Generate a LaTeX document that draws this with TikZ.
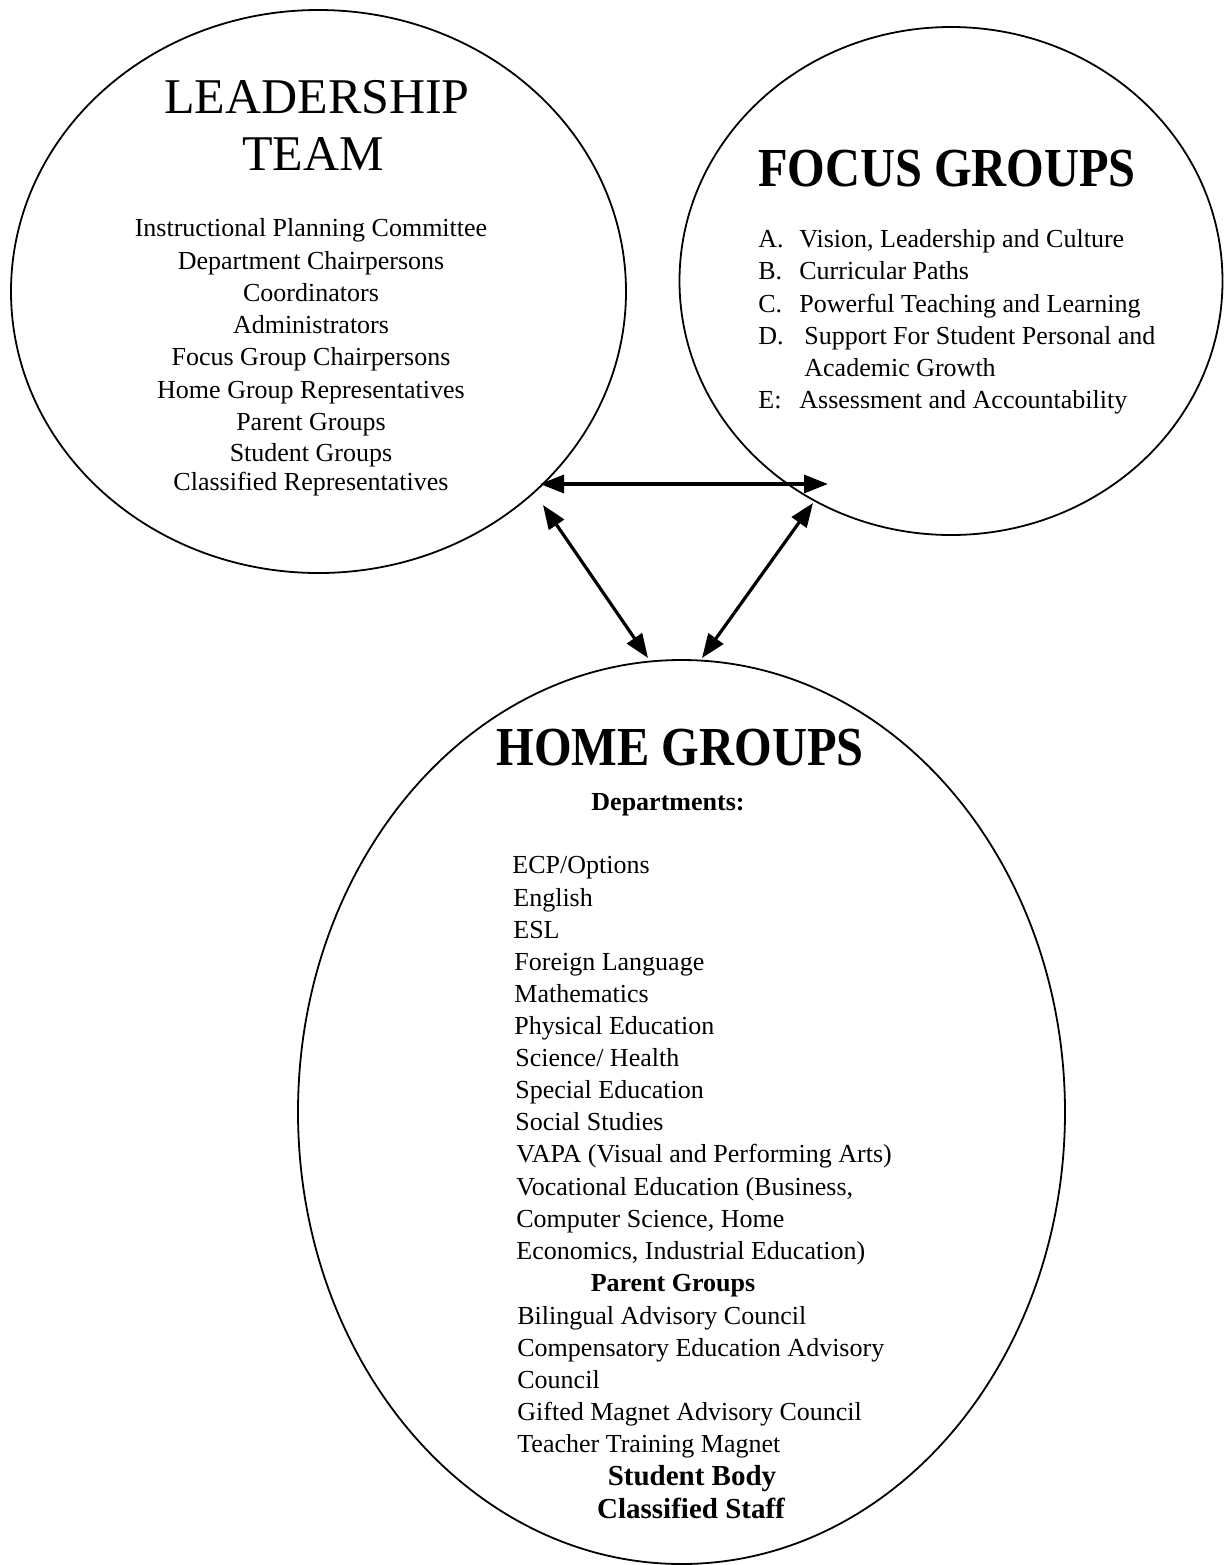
\documentclass[tikz,border=0pt]{standalone}
\usepackage{fontspec}
\setmainfont{Liberation Serif}
\newfontfamily\titlefont[FakeStretch=0.88]{Liberation Serif}
\usetikzlibrary{shapes.geometric,arrows.meta}
\tikzset{
  circ/.style={draw, ellipse, line width=0.9pt, inner sep=0pt},
  body/.style={font=\fontsize{13}{16}\selectfont, inner sep=0pt},
  bodyb/.style={font=\fontsize{13}{16}\selectfont\bfseries, inner sep=0pt, anchor=base},
  bodybb/.style={font=\fontsize{14.5}{16}\selectfont\bfseries, inner sep=0pt, anchor=base},
  ctr/.style={body, anchor=base},
  lft/.style={body, anchor=base west},
  engr/.style={font=\fontsize{25}{28}\selectfont, inner sep=0pt, anchor=base},
  bigb/.style={font=\titlefont\fontsize{27.5}{30}\selectfont\bfseries, inner sep=0pt, anchor=base},
  link/.style={line width=1.6pt, {Triangle[length=12pt,width=9pt]}-{Triangle[length=12pt,width=9pt]}}
}
\begin{document}
\begin{tikzpicture}[x=0.5pt,y=-0.5pt]
\useasboundingbox (0,0) rectangle (1228,1565);
% circles
\node[circ, minimum width=307.5pt, minimum height=281.5pt] (lead) at (318.5,291.5) {};
\node[circ, minimum width=271.5pt, minimum height=254pt] (focus) at (951,281) {};
\node[circ, minimum width=383.5pt, minimum height=452pt] (home) at (681.5,1112) {};
% Leadership team
\node[engr] (ltA) at (317,113) {LEADERSHIP};
\node[engr] (ltB) at (313,170) {TEAM};
\node[ctr] (l1) at (311,236) {Instructional Planning Committee};
\node[ctr] (l2) at (311,269) {Department Chairpersons};
\node[ctr] (l3) at (311,301) {Coordinators};
\node[ctr] (l4) at (311,333) {Administrators};
\node[ctr] (l5) at (311,365) {Focus Group Chairpersons};
\node[ctr] (l6) at (311,398) {Home Group Representatives};
\node[ctr] (l7) at (311,430) {Parent Groups};
\node[ctr] (l8) at (311,461) {Student Groups};
\node[ctr] (l9) at (311,490) {Classified Representatives};
% Focus groups
\node[bigb] (fgT) at (947,186) {FOCUS GROUPS};
\node[lft] (f1) at (758,247) {\makebox[20.5pt][l]{A.}Vision, Leadership and Culture};
\node[lft] (f2) at (758,279) {\makebox[20.5pt][l]{B.}Curricular Paths};
\node[lft] (f3) at (758,312) {\makebox[20.5pt][l]{C.}Powerful Teaching and Learning};
\node[lft] (f4) at (758,344) {\makebox[23pt][l]{D.}Support For Student Personal and};
\node[lft] (f5) at (804,376) {Academic Growth};
\node[lft] (f6) at (758,408) {\makebox[20.5pt][l]{E:}Assessment and Accountability};
% Home groups
\node[bigb] (hgT) at (680,765) {HOME GROUPS};
\node[bodyb] (dep) at (668,810) {Departments:};
\node[lft] (h1) at (512,873) {ECP/Options};
\node[lft] (h2) at (513,906) {English};
\node[lft] (h3) at (513,938) {ESL};
\node[lft] (h4) at (514,970) {Foreign Language};
\node[lft] (h5) at (514,1002) {Mathematics};
\node[lft] (h6) at (514,1034) {Physical Education};
\node[lft] (h7) at (515,1066) {Science/ Health};
\node[lft] (h8) at (515,1098) {Special Education};
\node[lft] (h9) at (515,1130) {Social Studies};
\node[lft] (h10) at (516,1162) {VAPA (Visual and Performing Arts)};
\node[lft] (h11) at (516,1195) {Vocational Education (Business,};
\node[lft] (h12) at (516,1227) {Computer Science, Home};
\node[lft] (h13) at (516,1259) {Economics, Industrial Education)};
\node[bodyb] (pg) at (673,1291) {Parent Groups};
\node[lft] (h14) at (517,1324) {Bilingual Advisory Council};
\node[lft] (h15) at (517,1356) {Compensatory Education Advisory};
\node[lft] (h16) at (517,1388) {Council};
\node[lft] (h17) at (517,1420) {Gifted Magnet Advisory Council};
\node[lft] (h18) at (517,1452) {Teacher Training Magnet};
\node[bodybb] (sb) at (692,1485) {Student Body};
\node[bodybb] (cs) at (691,1518) {Classified Staff};
% arrow end points
\coordinate (hL) at (540,484);
\coordinate (hR) at (828,484);
\coordinate (dLa) at (543,505);
\coordinate (dLb) at (648,658);
\coordinate (dRa) at (813,503);
\coordinate (dRb) at (702,658);
\draw[link] (hL) -- (hR);
\draw[link] (dLa) -- (dLb);
\draw[link] (dRa) -- (dRb);
\end{tikzpicture}
\end{document}
